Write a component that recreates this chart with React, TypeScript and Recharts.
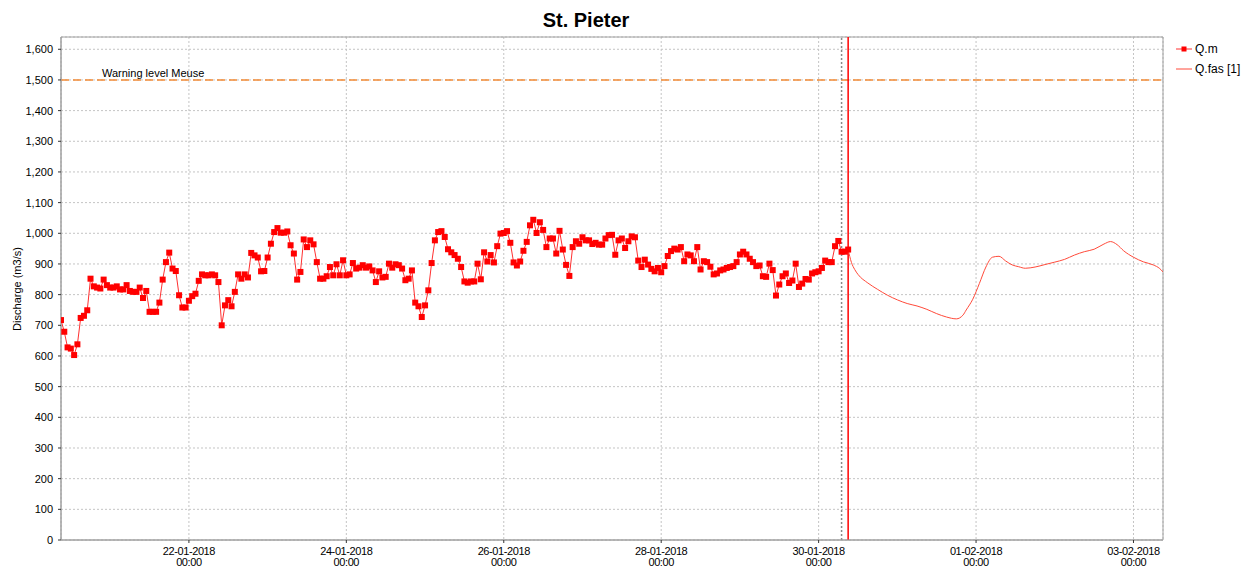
import React from "react";
import {
  CartesianGrid,
  ComposedChart,
  Line,
  ReferenceArea,
  ReferenceLine,
  XAxis,
  YAxis
} from "recharts";

const HOUR = 3600 * 1000;
const START = Date.UTC(2018, 0, 20, 9);
const END = Date.UTC(2018, 1, 3, 9);
const FORECAST_T0 = Date.UTC(2018, 0, 30, 9);
const LAST_CHECK = Date.UTC(2018, 0, 30, 7);

// hourly measured discharge Q.m (m3/s), from 20-01-2018 09:00
const observedQ = [
  717, 679, 628, 624, 603, 638, 724, 731, 749, 852, 827, 823, 820, 849, 831, 823, 823, 827, 817, 817,
  831, 812, 809, 809, 823, 789, 812, 744, 744, 744, 774, 849, 906, 937, 885, 877, 798, 758, 758, 780,
  795, 803, 845, 866, 863, 863, 866, 863, 841, 700, 765, 782, 762, 809, 866, 852, 866, 856, 936, 928,
  921, 876, 877, 921, 966, 1004, 1017, 1002, 1002, 1006, 961, 934, 849, 874, 980, 955, 977, 964, 906, 852,
  852, 860, 890, 863, 899, 863, 912, 863, 866, 903, 885, 888, 896, 888, 892, 879, 841, 876, 856, 858,
  901, 888, 899, 896, 885, 847, 852, 879, 774, 762, 727, 765, 814, 903, 977, 1004, 1007, 988, 948,
  938, 929, 917, 890, 843, 839, 843, 843, 901, 850, 938, 908, 929, 905, 958, 999, 1001, 1007, 969, 905,
  895, 908, 943, 972, 1026, 1044, 1001, 1036, 1011, 955, 983, 983, 934, 1008, 947, 897, 861, 955, 974, 966,
  987, 977, 977, 965, 969, 963, 963, 983, 994, 995, 930, 977, 983, 952, 974, 990, 987, 911, 890, 914,
  898, 884, 876, 887, 873, 893, 926, 942, 950, 947, 955, 909, 931, 928, 909, 955, 882, 909, 906, 891,
  866, 869, 879, 882, 887, 890, 893, 906, 931, 940, 931, 917, 906, 893, 895, 860, 858, 901, 880, 797,
  833, 860, 869, 838, 846, 901, 825, 836, 851, 849, 869, 873, 876, 887, 911, 906, 906, 958, 975, 940,
  940, 947
];

// forecast Q.fas [1], hours after 30-01-2018 09:00
const forecastHours = [
  0, 1, 2, 3, 6, 9, 12, 15, 18, 21, 24, 27, 30, 33, 35, 36, 38, 40, 42, 44, 46, 48, 50, 52, 54,
  57, 60, 63, 66, 69, 72, 75, 78, 80, 82, 84, 87, 90, 93, 95, 96
];
const forecastQ = [
  947, 905, 882, 866, 838, 817, 798, 783, 771, 763, 752, 738, 727, 721, 733, 750, 785, 836, 890, 922, 925,
  910, 897, 891, 886, 890, 898, 906, 915, 929, 940, 948, 965, 973, 963, 943, 922, 907, 897, 885, 874
];

const xTicks = [
  Date.UTC(2018, 0, 22),
  Date.UTC(2018, 0, 24),
  Date.UTC(2018, 0, 26),
  Date.UTC(2018, 0, 28),
  Date.UTC(2018, 0, 30),
  Date.UTC(2018, 1, 1),
  Date.UTC(2018, 1, 3)
];
const yTicks = [0, 100, 200, 300, 400, 500, 600, 700, 800, 900, 1000, 1100, 1200, 1300, 1400, 1500, 1600];

const WARNING_LEVEL = 1500;
const FONT = "'Liberation Sans', Arial, sans-serif";

const observedData = observedQ.map((q, i) => ({ t: START + i * HOUR, q }));
const forecastData = forecastHours.map((h, i) => ({ t: FORECAST_T0 + h * HOUR, q: forecastQ[i] }));

const pad = (n: number) => String(n).padStart(2, "0");

function DateTick({ x, y, payload }: any) {
  const d = new Date(payload.value);
  const day = `${pad(d.getUTCDate())}-${pad(d.getUTCMonth() + 1)}-${d.getUTCFullYear()}`;
  const time = `${pad(d.getUTCHours())}:${pad(d.getUTCMinutes())}`;
  return (
    <text x={x} y={y} textAnchor="middle" fontSize={11} fontFamily={FONT} fill="#000" letterSpacing="-0.4">
      <tspan x={x} dy={10}>{day}</tspan>
      <tspan x={x} dy={11}>{time}</tspan>
    </text>
  );
}

function SquareDot(props: any) {
  const { cx, cy, index } = props;
  if (cx == null || cy == null) return <g key={`d-${index}`} />;
  return <rect key={`d-${index}`} x={cx - 3} y={cy - 3} width={6} height={6} fill="#ff0000" />;
}

function WarningLabel(props: any) {
  const { viewBox } = props;
  return (
    <text x={viewBox.x + 41} y={viewBox.y - 3} fontSize={11} fontFamily={FONT} fill="#000">
      Warning level Meuse
    </text>
  );
}

export default function App() {
  return (
    <div style={{ position: "absolute", left: 0, top: 0, width: 1247, height: 568, background: "#fff" }}>
      <ComposedChart width={1247} height={568} margin={{ top: 37, right: 84, bottom: 0, left: 0 }}>
        <CartesianGrid stroke="#c4c4c4" strokeDasharray="2 2" />
        <XAxis
          dataKey="t"
          type="number"
          domain={[START, END]}
          ticks={xTicks}
          interval={0}
          height={28}
          tickSize={3}
          tickMargin={2}
          tick={<DateTick />}
          axisLine={{ stroke: "#a0a0a0" }}
          tickLine={{ stroke: "#333" }}
          allowDataOverflow
        />
        <YAxis
          type="number"
          domain={[0, 1640]}
          ticks={yTicks}
          interval={0}
          width={61}
          tickSize={3}
          tickMargin={5}
          tickFormatter={(v: number) => v.toLocaleString("en-US")}
          tick={{ fontSize: 11, fontFamily: FONT, fill: "#000" }}
          axisLine={{ stroke: "#a0a0a0" }}
          tickLine={{ stroke: "#333" }}
          allowDataOverflow
        />
        <ReferenceArea x1={START} x2={END} y1={0} y2={1640} fill="none" stroke="#a0a0a0" />
        <ReferenceLine
          y={WARNING_LEVEL}
          stroke="#f28a36"
          strokeWidth={1.5}
          strokeDasharray="8 4"
          label={<WarningLabel />}
        />
        <ReferenceLine x={LAST_CHECK} stroke="#8a8a8a" strokeWidth={1.5} strokeDasharray="2 2" />
        <ReferenceLine x={FORECAST_T0} stroke="#ff0000" strokeWidth={1.5} />
        <Line
          data={forecastData}
          dataKey="q"
          type="monotone"
          stroke="#ff4a3a"
          strokeWidth={1}
          dot={false}
          isAnimationActive={false}
        />
        <Line
          data={observedData}
          dataKey="q"
          type="linear"
          stroke="#ff3030"
          strokeWidth={1}
          dot={<SquareDot />}
          activeDot={false}
          isAnimationActive={false}
        />
      </ComposedChart>
      <svg width={1247} height={568} style={{ position: "absolute", left: 0, top: 0, pointerEvents: "none" }}>
        <text x={586} y={27} textAnchor="middle" fontSize={20} fontWeight="bold" fontFamily={FONT} fill="#000">
          St. Pieter
        </text>
        <text
          transform="translate(21,289) rotate(-90)"
          textAnchor="middle"
          fontSize={11}
          fontFamily={FONT}
          fill="#000"
        >
          Discharge (m3/s)
        </text>
        <g fontSize={12} fontFamily={FONT} fill="#000">
          <line x1={1176} y1={49} x2={1192} y2={49} stroke="#ff3030" />
          <rect x={1181.5} y={46.5} width={5} height={5} fill="#ff0000" />
          <text x={1195} y={53}>Q.m</text>
          <line x1={1176} y1={69} x2={1192} y2={69} stroke="#ff4a3a" />
          <text x={1195} y={73}>Q.fas [1]</text>
        </g>
      </svg>
    </div>
  );
}
